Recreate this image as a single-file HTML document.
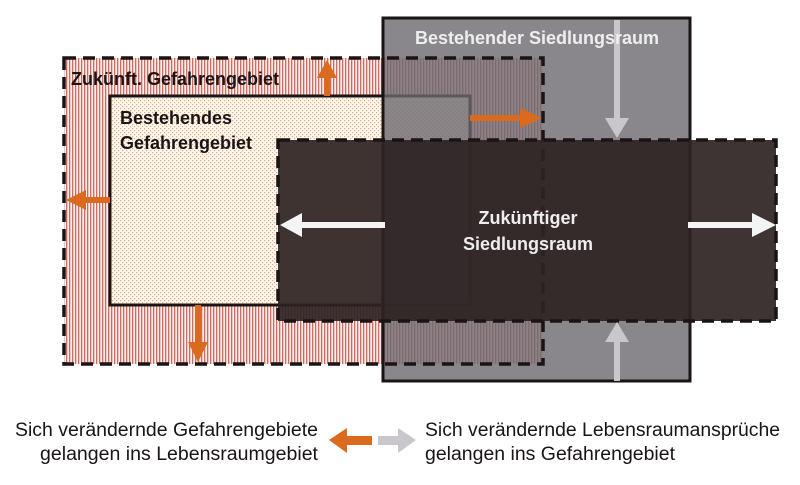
<!DOCTYPE html>
<html><head><meta charset="utf-8"><style>
html,body{margin:0;padding:0;background:#fff;}
svg{display:block;}
text{font-family:"Liberation Sans",sans-serif;}
</style></head><body>
<svg width="800" height="485" viewBox="0 0 800 485" xmlns="http://www.w3.org/2000/svg">
<defs>
<pattern id="stripes" width="3" height="10" patternUnits="userSpaceOnUse">
<rect width="3" height="10" fill="#fbeeee"/>
<rect x="0" width="1.3" height="10" fill="#d46a5c"/>
</pattern>
<pattern id="dots" width="4" height="4" patternUnits="userSpaceOnUse">
<rect width="4" height="4" fill="#fdf8f2"/>
<rect x="0" y="0" width="1.2" height="1.2" fill="#eaa872"/>
<rect x="2" y="2" width="1.2" height="1.2" fill="#eaa872"/>
</pattern>
</defs>

<rect x="64" y="58" width="479" height="306" fill="url(#stripes)"/>
<rect x="110" y="96" width="360" height="209" fill="url(#dots)"/>
<rect x="110" y="96" width="360" height="209" fill="none" stroke="#1a1414" stroke-width="3"/>

<rect x="383" y="18" width="307" height="363" fill="#6c696f" fill-opacity="0.8"/>
<rect x="383" y="18" width="307" height="363" fill="none" stroke="#1a1414" stroke-width="3"/>

<rect x="64" y="58" width="479" height="306" fill="none" stroke="#1a1414" stroke-width="3.5" stroke-dasharray="12,7"/>

<rect x="278" y="140" width="498" height="181" fill="#2e2323" fill-opacity="0.92"/>
<rect x="278" y="140" width="498" height="181" fill="none" stroke="#1a1414" stroke-width="3.5" stroke-dasharray="12,7"/>

<g fill="#d96a1e">
<rect x="324" y="76" width="6" height="20"/><polygon points="317,78 337,78 327,60"/>
<rect x="84" y="197" width="26" height="6"/><polygon points="86,190 86,210 66,200"/>
<rect x="195" y="305" width="6" height="38"/><polygon points="188,342 208,342 198,362"/>
<rect x="470" y="115" width="52" height="6"/><polygon points="520,108 520,128 542,118"/>
</g>
<g fill="#c9c7cc">
<rect x="614" y="20" width="6" height="100"/><polygon points="605,118 629,118 617,138"/>
<rect x="614" y="340" width="6" height="41"/><polygon points="605,342 629,342 617,322"/>
</g>
<g fill="#f4f4f4">
<rect x="300" y="222" width="85" height="6"/><polygon points="302,213 302,237 280,225"/>
<rect x="688" y="222" width="66" height="6"/><polygon points="752,213 752,237 776,225"/>
</g>

<text x="71" y="85" font-size="18" font-weight="bold" fill="#1a1414">Zukünft. Gefahrengebiet</text>
<text x="120" y="124" font-size="18" font-weight="bold" fill="#1a1414">Bestehendes</text>
<text x="120" y="149" font-size="18" font-weight="bold" fill="#1a1414">Gefahrengebiet</text>
<text x="537" y="44" font-size="18" font-weight="bold" fill="#eeeeee" text-anchor="middle">Bestehender Siedlungsraum</text>
<text x="528" y="224" font-size="18" font-weight="bold" fill="#eeeeee" text-anchor="middle">Zukünftiger</text>
<text x="528" y="250" font-size="18" font-weight="bold" fill="#eeeeee" text-anchor="middle">Siedlungsraum</text>

<text x="318" y="436" font-size="19" fill="#1a1414" text-anchor="end" textLength="303" lengthAdjust="spacingAndGlyphs">Sich verändernde Gefahrengebiete</text>
<text x="318" y="460" font-size="19" fill="#1a1414" text-anchor="end" textLength="278" lengthAdjust="spacingAndGlyphs">gelangen ins Lebensraumgebiet</text>
<g fill="#d96a1e"><rect x="345" y="436" width="27" height="9"/><polygon points="347,428 347,453 329,440"/></g>
<g fill="#c9c7cc"><rect x="378" y="436" width="22" height="9"/><polygon points="398,428 398,453 416,440"/></g>
<text x="425" y="436" font-size="19" fill="#1a1414" textLength="355" lengthAdjust="spacingAndGlyphs">Sich verändernde Lebensraumansprüche</text>
<text x="425" y="460" font-size="19" fill="#1a1414" textLength="250" lengthAdjust="spacingAndGlyphs">gelangen ins Gefahrengebiet</text>
</svg>
</body></html>
